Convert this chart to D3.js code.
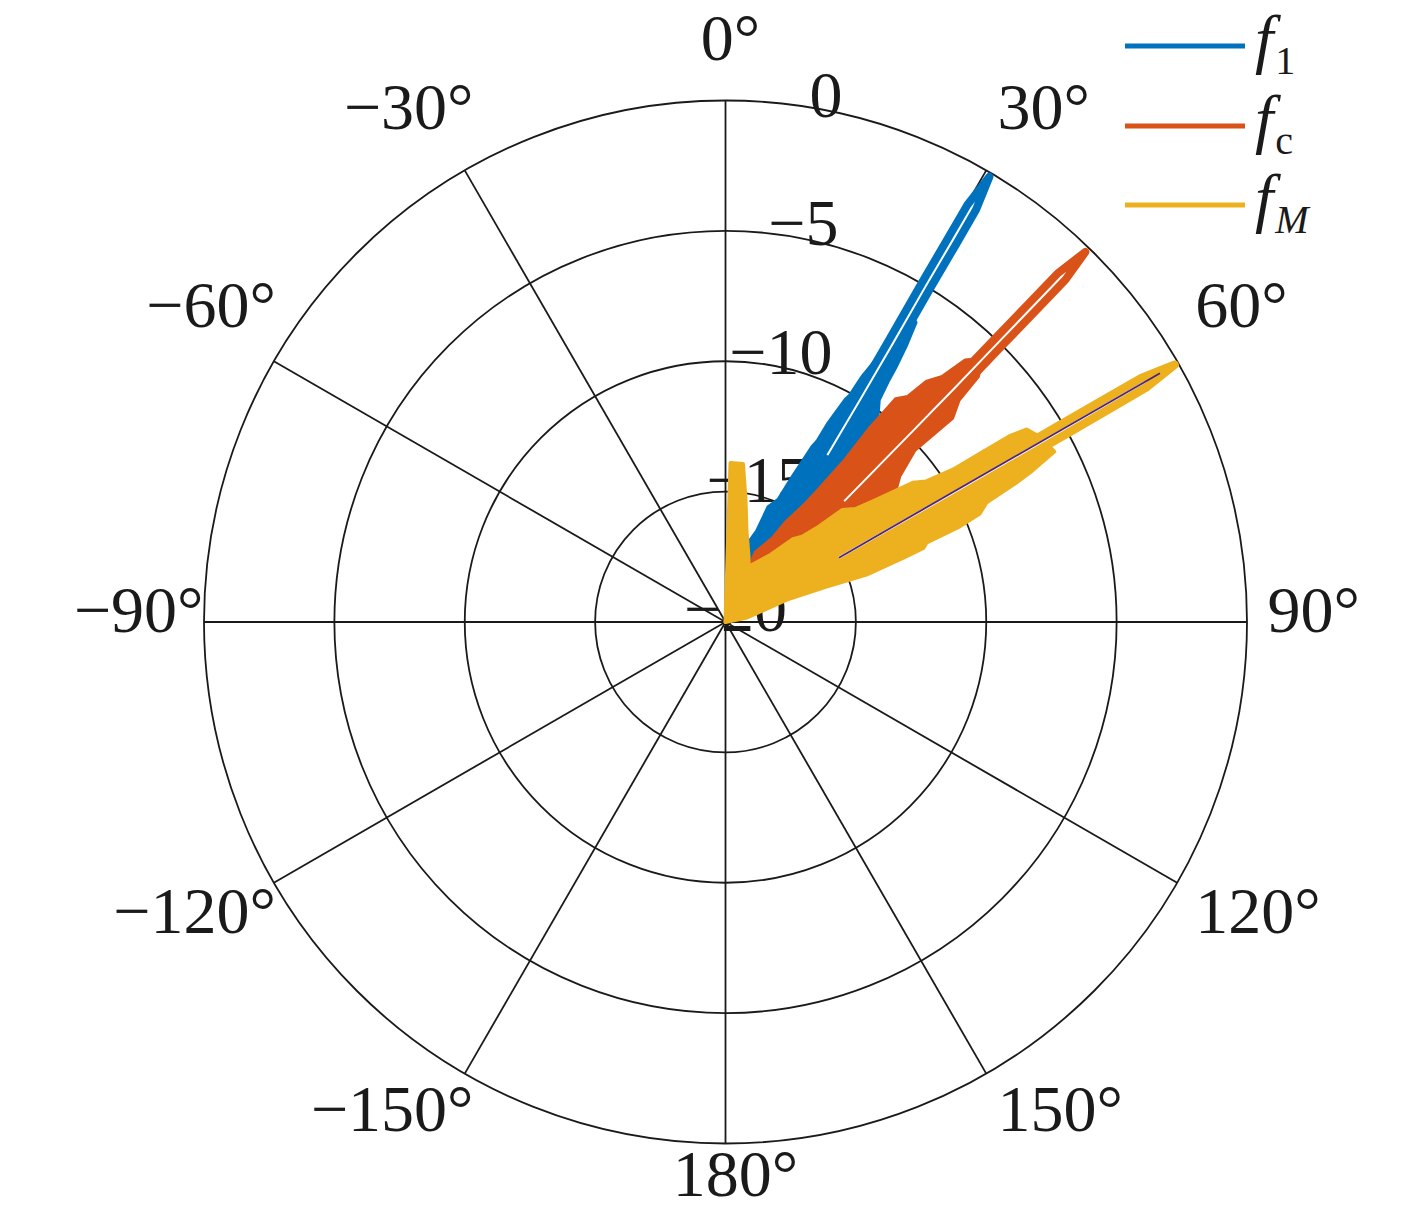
<!DOCTYPE html>
<html><head><meta charset="utf-8">
<script src="https://cdn.jsdelivr.net/npm/d3@7/dist/d3.min.js"></script>
<style>body{margin:0;background:#fff}svg{display:block}</style>
</head><body>
<svg id="chart" width="1417" height="1212"></svg>
<script>
// ---------- data (angle in degrees clockwise from top, level in dB) ----------
const thetaTicks = [0, 30, 60, 90, 120, 150, 180, -150, -120, -90, -60, -30];
const rTicks = [-20, -15, -10, -5, 0];
const seriesNames = ["f1", "fc", "fM"];

// f1 (blue): sidelobe envelope and main beam
const f1Side = [[14,-20],[16.2,-16.85],[19.2,-16.3],[20.5,-15.3],[23.4,-14.9],[24.8,-13.9],[26.4,-12.5],[27.0,-12.2],[27.4,-11.4],[28.4,-10.3],[28.8,-10.1],[29.2,-9.2],[30.0,-8.25],[30.3,-7.2],[30.4,-6.5],[31.5,-6.3],[32.4,-6.4],[33.1,-7.3],[33.7,-8.25],[34.0,-8.9],[34.6,-9.65],[36.5,-10.2],[38,-11],[38,-14],[34,-16.5],[28,-20]];
const f1Beam = [[29.94,-12.5],[30.1,-10],[30.12,-7.5],[30.07,-5],[30.1,-3],[30.11,-1.5],[30.66,-0.15],[31.29,-1.5],[31.4,-3],[31.53,-5],[31.88,-7.5],[32.3,-10],[32.86,-12.5]];

// fc (orange)
const fcSide = [[20,-20],[23.5,-17.1],[29.5,-16.3],[31.2,-15.55],[34.0,-14.6],[35.2,-13.8],[36.5,-12.25],[36.7,-10.8],[37.4,-9.25],[39.0,-8.9],[39.9,-8.0],[41.5,-7.45],[42.5,-6.4],[43.6,-6.1],[45.0,-6.2],[45.8,-6.5],[46.4,-7.65],[48,-8.3],[47.7,-10.2],[50,-11.3],[52.5,-11.8],[55,-13],[50,-16],[40,-18.5],[30,-20]];
const fcBeam = [[42.81,-13.5],[43.35,-10],[43.52,-7.5],[43.57,-5],[43.6,-3],[43.63,-1.5],[44.2,-0.2],[44.81,-1.5],[44.9,-3],[45.03,-5],[45.28,-7.5],[45.55,-10],[46.19,-13.5]];

// fM (yellow)
const fMSide = [[0.5,-20],[1.8,-13.9],[6.3,-13.9],[9.3,-15.25],[12.9,-16.4],[19,-17.3],[22.7,-17.7],[33.9,-16.9],[39.2,-15.9],[42.0,-15.6],[44.4,-14.9],[46.2,-13.8],[49.0,-13.4],[50.9,-12.6],[53.4,-11.05],[55.0,-10.6],[56.2,-9.5],[56.5,-8.3],[56.8,-7.0],[57.4,-6.3],[59.6,-6.0],[62.6,-5.8],[63.7,-6.85],[64.4,-7.65],[65.4,-9.0],[66.9,-9.4],[67.8,-10.3],[68.4,-11.7],[69.5,-11.9],[70.1,-12.7],[71.4,-14.3],[70.7,-15.9],[69.9,-17.5],[78.7,-19.2],[80,-20]];
const fMBeam = [[58.03,-15],[58.8,-12.5],[59.2,-10],[59.4,-7.5],[59.5,-5],[59.55,-3],[59.6,-1.5],[60.2,-0.15],[60.85,-1.5],[60.95,-3],[61.1,-5],[61.3,-7.5],[61.6,-10],[62.0,-12.5],[62.87,-15]];
const fMCore = [[60.45,-15],[60.2,-0.8]];

// ---------- layout ----------
const W = 1417, H = 1212;
const cx = 725.5, cy = 622, R = 521.5;
const colors = { f1: "#0072BD", fc: "#D95319", fM: "#EDB120" };
const FONT = "'Liberation Serif','Times New Roman',serif";
const FS = 66;

const svg = d3.select("#chart");
svg.append("rect").attr("width", W).attr("height", H).attr("fill", "#ffffff");
const g = svg.append("g").attr("transform", `translate(${cx},${cy})`);

const r = d3.scaleLinear().domain([-20, 0]).range([0, R]).clamp(true);
const rad = d => d * Math.PI / 180;

// grid
const grid = g.append("g").attr("fill", "none").attr("stroke", "#1a1a1a").attr("stroke-width", 1.8);
rTicks.filter(v => v > -20).forEach(v => grid.append("circle").attr("r", r(v)));
thetaTicks.forEach(t => {
  grid.append("line").attr("x1", 0).attr("y1", 0)
    .attr("x2", R * Math.sin(rad(t))).attr("y2", -R * Math.cos(rad(t)));
});

// radial tick labels (drawn under data)
const rLabAng = rad(10);
rTicks.forEach(v => {
  const rr = r(v);
  g.append("text")
    .attr("x", rr * Math.sin(rLabAng) + 10)
    .attr("y", -rr * Math.cos(rLabAng) - 14)
    .attr("text-anchor", "middle").attr("dominant-baseline", "central")
    .attr("font-family", FONT).attr("font-size", FS).attr("fill", "#1a1a1a")
    .text(v < 0 ? "\u2212" + Math.abs(v) : String(v));
});

// data
const radial = d3.lineRadial().angle(d => rad(d[0])).radius(d => r(d[1]));
const series = [
  { key: "f1", side: f1Side, beam: f1Beam, w: 8 },
  { key: "fc", side: fcSide, beam: fcBeam, w: 8 },
  { key: "fM", side: fMSide, beam: fMBeam, w: 8.5 }
];
series.forEach(s => {
  const col = colors[s.key];
  g.append("path").attr("d", radial(s.side) + "Z")
    .attr("fill", col).attr("stroke", col).attr("stroke-width", 4).attr("stroke-linejoin", "round");
  g.append("path").attr("d", radial(s.beam))
    .attr("fill", "#ffffff").attr("stroke", col).attr("stroke-width", s.w)
    .attr("stroke-linejoin", "round").attr("stroke-linecap", "round");
});
g.append("path").attr("d", radial(fMCore)).attr("fill", "none")
  .attr("stroke", "#4a2383").attr("stroke-width", 1.8);

// theta tick labels
const Ra = 540;
thetaTicks.forEach(t => {
  const s = Math.sin(rad(t)), c = Math.cos(rad(t));
  const ax = Ra * s, ay = -Ra * c;
  let anchor, x, y;
  if (Math.abs(s) < 0.1) { anchor = "middle"; x = ax + (c > 0 ? 5 : 10); }
  else if (s > 0) { anchor = "start"; x = ax + 2; }
  else { anchor = "end"; x = ax + 18; }
  if (c > 0.1) y = ay - (Math.abs(s) < 0.1 ? 22 : 25);
  else if (c < -0.1) y = ay + (Math.abs(s) < 0.1 ? 34 : 41);
  else y = ay + 10;
  g.append("text").attr("x", x).attr("y", y).attr("text-anchor", anchor)
    .attr("font-family", FONT).attr("font-size", FS).attr("fill", "#1a1a1a")
    .text((t < 0 ? "\u2212" + Math.abs(t) : String(t)) + "\u00B0");
});

// legend
const legSubs = { f1: ["1", "normal"], fc: ["c", "normal"], fM: ["M", "italic"] };
const leg = svg.append("g");
seriesNames.forEach((k, i) => {
  const ly = [46, 126, 205][i];
  leg.append("line").attr("x1", 1125).attr("x2", 1245).attr("y1", ly).attr("y2", ly)
    .attr("stroke", colors[k]).attr("stroke-width", 5);
  const tx = leg.append("text").attr("x", 1255).attr("y", ly + 15)
    .attr("font-family", FONT).attr("fill", "#1a1a1a");
  tx.append("tspan").attr("font-size", 66).attr("font-style", "italic").text("f");
  tx.append("tspan").attr("font-size", 40).attr("font-style", legSubs[k][1])
    .attr("dx", 2).attr("dy", 13).text(legSubs[k][0]);
});
</script>
</body></html>
